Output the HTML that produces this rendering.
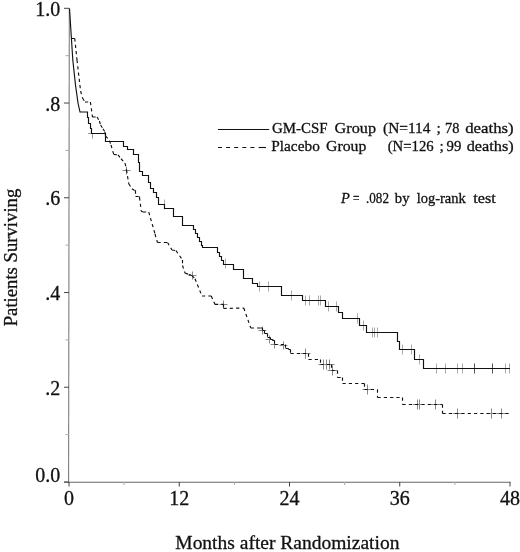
<!DOCTYPE html>
<html><head><meta charset="utf-8"><title>Survival</title>
<style>
html,body{margin:0;padding:0;background:#fff;}
body{width:520px;height:552px;overflow:hidden;font-family:"Liberation Serif",serif;}
svg{display:block;will-change:transform;transform:translateZ(0);}
text{font-family:"Liberation Serif",serif;fill:#111;stroke:#111;stroke-width:0.3px;}
</style></head><body>
<svg width="520" height="552" viewBox="0 0 520 552">
<rect width="520" height="552" fill="#fff"/>
<path d="M69.3 8.3L68.6 482.2" fill="none" stroke="#777" stroke-width="1.05"/>
<path d="M64 482.2H510.5" fill="none" stroke="#666" stroke-width="1.1"/>
<path d="M64 482H69M64 387.26H69M64 292.52H69M64 197.78H69M64 103.04H69M64 8.3H69M69 482V486.5M179.25 482V486.5M289.5 482V486.5M399.75 482V486.5M510 482V486.5" fill="none" stroke="#444" stroke-width="1"/>
<path d="M65.5 434.63H69M65.5 339.89H69M65.5 245.15H69M65.5 150.41H69M65.5 55.67H69M124.125 482V485M234.375 482V485M344.625 482V485M454.875 482V485" fill="none" stroke="#aaa" stroke-width="1"/>
<path d="M164.5 199.5V209.5M225.5 258.5V268.5M259.5 281.5V291.5M268.5 281.5V291.5M291.5 290.5V300.5M305.5 295.5V305.5M309.5 295.5V305.5M318.5 295.5V305.5M320.5 295.5V305.5M328.5 301.5V311.5M336.5 301.5V311.5M357.5 313.5V323.5M363.5 320.5V330.5M372.5 327.5V337.5M374.5 327.5V337.5M377.5 327.5V337.5M402.5 344.5V354.5M411.5 344.5V354.5M419.5 354.5V364.5M436.5 363.5V373.5M445.5 363.5V373.5M457.5 363.5V373.5M462.5 363.5V373.5M505.5 363.5V373.5M509.5 363.5V373.5" fill="none" stroke="#aaa" stroke-width="1"/>
<path d="M474.5 363.5V373.5M492.5 363.5V373.5" fill="none" stroke="#555" stroke-width="1"/>
<path d="M88 133.5H94M92.5 133.5V138.5" fill="none" stroke="#999" stroke-width="1"/>
<path d="M126.5 166.5V174.5M122.5 170.5H130.5M192.5 271.5V279.5M188.5 275.5H196.5M223.5 300.5V308.5M219.5 304.5H227.5M262.5 326.5V334.5M258.5 330.5H266.5M269.5 335.5V343.5M265.5 339.5H273.5M274.5 340.5V348.5M270.5 344.5H278.5M283.5 341.5V349.5M279.5 345.5H287.5" fill="none" stroke="#888" stroke-width="1"/>
<path d="M305.5 348.5V358.5M300.5 353.5H310.5M323.5 359.5V369.5M318.5 364.5H328.5M326.5 359.5V369.5M321.5 364.5H331.5M329.5 359.5V369.5M324.5 364.5H334.5M332.5 365.5V375.5M327.5 370.5H337.5M367.5 384.5V394.5M362.5 389.5H372.5M417.5 399.5V409.5M412.5 404.5H422.5M419.5 399.5V409.5M414.5 404.5H424.5M435.5 399.5V409.5M430.5 404.5H440.5M457.5 408.5V418.5M452.5 413.5H462.5M491.5 408.5V418.5M486.5 413.5H496.5M501.5 408.5V418.5M496.5 413.5H506.5" fill="none" stroke="#888" stroke-width="1"/>
<path d="M69.5 8.5L71 32L72.8 60L75.5 85L78 103L80 112H87.5V117.5H88.5V123.5H90.5V128.5H91.5V133.5H105.5V141.5H123.5V146.5H127.5V149.5H133.5V154.5H138.5V162.5H139.5V171.5H142.5V175.5H148.5V182.5H150.5V188.5H153.5V192.5H156.5V197.5H158.5V204.5H164.5V208.5H173.5V216.5H182.5V225.5H193.5V229.5H195.5V233.5H197.5V237.5H199.5V241.5H201.5V245.5H202.5V247.5H217.5V252.5H219.5V256.5H221.5V260.5H223.5V264.5H233.5V269.5H243.5V278.5H252.5V283.5H257.5V286.5H281.5V295.5H302.5V300.5H325.5V306.5H338.5V312.5H342.5V318.5H359.5V325.5H366.5V332.5H397.5V341.5H399.5V349.5H414.5V359.5H423.5V368.5H510" fill="none" stroke="#111" stroke-width="1.15" stroke-linejoin="miter"/>
<path d="M71.5 38.5M71.5 38.5L74.75 38.5M74.75 38.5L77 60M77 60L80.6 91M80.6 91L82.5 98M82.5 98L85 102M85 102L90.4 102M90.4 102L92.5 117M92.5 117L97 117M97 117L99.4 121M99.4 121L100.6 125M100.6 125L103 128.75M103 128.75L105 132M105 132L105.6 136M105.6 136L109.4 140.6M109.4 140.6L111 145M111 145L113.75 154.4M113.75 154.4L118 154.8M118 154.8L121 158.75M121 158.75L125 163M125 163L126.5 170M126.5 170L128.75 183.75M128.75 183.75L131.9 188.75M131.9 188.75L135 190.6M135 190.6H135.5M135.5 190.6V196.5M135.5 196.5H139.5M139.5 196.5V197.5M139.5 197.5L141.25 211.25M141.25 211.25L143 212M143 212L148.75 212M148.75 212L155 234M155 234L157.5 242.5M157.5 242.5L167.5 242.5M167.5 242.5L172 250M172 250L176 250.6M176 250.6L182.5 260M182.5 260H182.5M182.5 260V265.5M182.5 265.5L185 273M185 273L188.75 274.4M188.75 274.4L192 275.6M192 275.6L195 278.75M195 278.75L202 296M202 296L211.25 296M211.25 296L215 304.4M215 304.4L223.75 304.4M223.75 304.4H223.5M223.5 304.4V308.5M223.5 308.5L243.75 308M243.75 308L250.8 328M250.8 328L260.5 328M260.5 328H262.5M262.5 328V330.5M262.5 330.5H264.5M264.5 330.5V333.5M264.5 333.5H267.5M267.5 333.5V337.5M267.5 337.5H270.5M270.5 337.5V339.5M270.5 339.5H272.5M272.5 339.5V340.5M272.5 340.5H274.5M274.5 340.5V344.5M274.5 344.5H285.5M285.5 344.5V348.5M285.5 348.5H288.5M288.5 348.5V349.5M288.5 349.5H290.5M290.5 349.5V353.5M290.5 353.5H308.5M308.5 353.5V359.5M308.5 359.5H320.5M320.5 359.5V364.5M320.5 364.5H331.5M331.5 364.5V370.5M331.5 370.5H337.5M337.5 370.5V377.5M337.5 377.5H342.5M342.5 377.5V383.5M342.5 383.5H364.5M364.5 383.5V389.5M364.5 389.5H377.5M377.5 389.5V397.5M377.5 397.5H402.5M402.5 397.5V404.5M402.5 404.5H442.5M442.5 404.5V413.5M442.5 413.5H510" fill="none" stroke="#111" stroke-width="1.15" stroke-dasharray="3.2 3.1"/>
<path d="M218 129.5H269.2" stroke="#111" stroke-width="1.1" fill="none"/>
<path d="M218 147.5H258" stroke="#111" stroke-width="1.1" stroke-dasharray="4 4.1" fill="none"/><path d="M258.6 147.5H266" stroke="#111" stroke-width="1.1" fill="none"/>
<text x="60.3" y="15.8" font-size="20" text-anchor="end">1.0</text>
<text x="60.3" y="110.5" font-size="20" text-anchor="end">.8</text>
<text x="60.3" y="205.3" font-size="20" text-anchor="end">.6</text>
<text x="60.3" y="300" font-size="20" text-anchor="end">.4</text>
<text x="60.3" y="394.8" font-size="20" text-anchor="end">.2</text>
<text x="60.3" y="482.3" font-size="20" text-anchor="end">0.0</text>
<text x="69" y="504.5" font-size="20" text-anchor="middle">0</text>
<text x="179.25" y="504.5" font-size="20" text-anchor="middle">12</text>
<text x="289.5" y="504.5" font-size="20" text-anchor="middle">24</text>
<text x="399.75" y="504.5" font-size="20" text-anchor="middle">36</text>
<text x="510" y="504.5" font-size="20" text-anchor="middle">48</text>
<text x="175.3" y="548.5" font-size="19.5" textLength="224.1" lengthAdjust="spacingAndGlyphs">Months after Randomization</text>
<text transform="translate(16.5,257.5) rotate(-90)" font-size="18.7" text-anchor="middle">Patients Surviving</text>
<text x="272" y="133" font-size="15.5" textLength="55.5" lengthAdjust="spacingAndGlyphs">GM-CSF</text>
<text x="334.6" y="133" font-size="15.5" textLength="41.4" lengthAdjust="spacingAndGlyphs">Group</text>
<text x="383" y="133" font-size="15.5" textLength="47.5" lengthAdjust="spacingAndGlyphs">(N=114</text>
<text x="436.5" y="133" font-size="15.5">;</text>
<text x="445" y="133" font-size="15.5" textLength="14.4" lengthAdjust="spacingAndGlyphs">78</text>
<text x="465.2" y="133" font-size="15.5" textLength="48.5" lengthAdjust="spacingAndGlyphs">deaths)</text>
<text x="271.3" y="151.3" font-size="15.5" textLength="48.5" lengthAdjust="spacingAndGlyphs">Placebo</text>
<text x="326" y="151.3" font-size="15.5" textLength="40.3" lengthAdjust="spacingAndGlyphs">Group</text>
<text x="387.7" y="151.3" font-size="15.5" textLength="46" lengthAdjust="spacingAndGlyphs">(N=126</text>
<text x="439.5" y="151.3" font-size="15.5">;</text>
<text x="446.5" y="151.3" font-size="15.5" textLength="14.8" lengthAdjust="spacingAndGlyphs">99</text>
<text x="466.7" y="151.3" font-size="15.5" textLength="47" lengthAdjust="spacingAndGlyphs">deaths)</text>
<text x="340.9" y="203" font-size="15.5" textLength="8.8" lengthAdjust="spacingAndGlyphs" font-style="italic">P</text>
<text x="353" y="203" font-size="15.5" textLength="6.5" lengthAdjust="spacingAndGlyphs">=</text>
<text x="366" y="203" font-size="15.5" textLength="23" lengthAdjust="spacingAndGlyphs">.082</text>
<text x="394.8" y="203" font-size="15.5" textLength="14.7" lengthAdjust="spacingAndGlyphs">by</text>
<text x="416.7" y="203" font-size="15.5" textLength="49.1" lengthAdjust="spacingAndGlyphs">log-rank</text>
<text x="473.3" y="203" font-size="15.5" textLength="22.5" lengthAdjust="spacingAndGlyphs">test</text>
</svg>
</body></html>
